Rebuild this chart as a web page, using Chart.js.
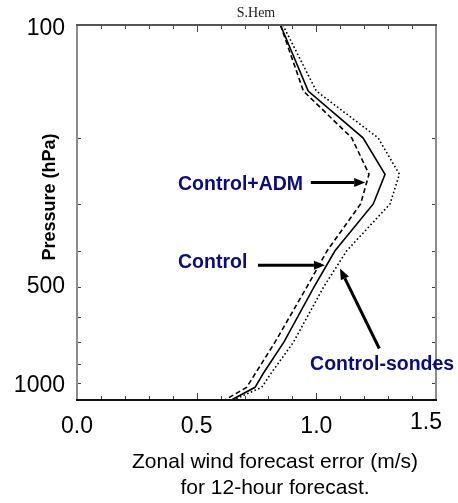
<!DOCTYPE html>
<html>
<head>
<meta charset="utf-8">
<script src="https://cdn.jsdelivr.net/npm/chart.js@4/dist/chart.umd.min.js"></script>
<style>
  html, body { margin: 0; padding: 0; background: #fff; }
  canvas { display: block; }
</style>
</head>
<body>
<canvas id="windChart" width="458" height="503"></canvas>
<script>
// pressure levels (hPa) and zonal wind forecast error (m/s)
var levels        = [100, 150, 200, 250, 300, 400, 500, 700, 850, 925, 1000];
var control       = [0.850, 0.966, 1.195, 1.287, 1.238, 1.078, 0.990, 0.865, 0.778, 0.744, 0.645];
var controlAdm    = [0.850, 0.946, 1.148, 1.220, 1.185, 1.045, 0.960, 0.828, 0.745, 0.709, 0.618];
var controlSondes = [0.860, 1.000, 1.258, 1.347, 1.308, 1.127, 1.030, 0.905, 0.810, 0.772, 0.652];

var xLabels = [0.0, 0.5, 1.0, 1.5];
var xMinor  = [0.1, 0.2, 0.3, 0.4, 0.6, 0.7, 0.8, 0.9, 1.1, 1.2, 1.3, 1.4];
var yLabels = [100, 500, 1000];
var yMinor  = [200, 300, 400, 600, 700, 800, 900];

// arrow annotations: [text, text x, text p, tail x, tail p, tip x, tip p]
var notes = [
  ['Control+ADM',    0.422, 267, 0.977, 263, 1.204, 263],
  ['Control',        0.422, 431, 0.756, 437, 1.036, 437],
  ['Control-sondes', 0.974, 807, 1.263, 729, 1.099, 446]
];

function pts(vals) {
  return vals.map(function (v, i) { return { x: v, y: levels[i] }; });
}

function arrow(ctx, x0, y0, x1, y1) {
  var a = Math.atan2(y1 - y0, x1 - x0), len = 11, w = 4.5;
  var bx = x1 - len * Math.cos(a), by = y1 - len * Math.sin(a);
  ctx.beginPath();
  ctx.moveTo(x0, y0);
  ctx.lineTo(bx, by);
  ctx.lineWidth = 3;
  ctx.stroke();
  ctx.beginPath();
  ctx.moveTo(x1, y1);
  ctx.lineTo(bx - w * Math.sin(a), by + w * Math.cos(a));
  ctx.lineTo(bx + w * Math.sin(a), by - w * Math.cos(a));
  ctx.closePath();
  ctx.fill();
}

// frame, inward ticks, labels, titles and arrows
var decor = {
  id: 'decor',
  afterDraw: function (chart) {
    var ctx = chart.ctx, a = chart.chartArea;
    var xs = chart.scales.x, ys = chart.scales.y;
    ctx.save();

    // ticks
    ctx.strokeStyle = '#444';
    ctx.lineWidth = 1;
    xMinor.concat(xLabels).forEach(function (v) {
      var px = Math.round(xs.getPixelForValue(v)) + 0.5;
      var len = xLabels.indexOf(v) >= 0 ? 7 : 4;
      ctx.beginPath();
      ctx.moveTo(px, a.top); ctx.lineTo(px, a.top + len);
      ctx.moveTo(px, a.bottom); ctx.lineTo(px, a.bottom - len);
      ctx.stroke();
    });
    yMinor.concat(yLabels).forEach(function (v) {
      var py = Math.round(ys.getPixelForValue(v)) + 0.5;
      ctx.beginPath();
      ctx.moveTo(a.left, py); ctx.lineTo(a.left + 4, py);
      ctx.moveTo(a.right, py); ctx.lineTo(a.right - 4, py);
      ctx.stroke();
    });

    // frame
    ctx.lineWidth = 2;
    ctx.strokeStyle = '#8c8c8c';
    ctx.beginPath();
    ctx.moveTo(a.left, a.top); ctx.lineTo(a.left, a.bottom);
    ctx.moveTo(a.right, a.top); ctx.lineTo(a.right, a.bottom);
    ctx.stroke();
    ctx.strokeStyle = '#555';
    ctx.beginPath();
    ctx.moveTo(a.left - 1, a.top); ctx.lineTo(a.right + 1, a.top);
    ctx.stroke();
    ctx.strokeStyle = '#111';
    ctx.beginPath();
    ctx.moveTo(a.left - 1, a.bottom); ctx.lineTo(a.right + 1, a.bottom);
    ctx.stroke();

    // tick labels
    ctx.fillStyle = '#000';
    ctx.font = '23px "Liberation Sans", Arial, sans-serif';
    ctx.textAlign = 'center';
    ctx.textBaseline = 'middle';
    xLabels.forEach(function (v, i) {
      var px = xs.getPixelForValue(v);
      var last = i === xLabels.length - 1;
      ctx.fillText(v.toFixed(1), px - (last ? 10 : 0), a.bottom + (last ? 23 : 27));
    });
    ctx.textAlign = 'right';
    var yShift = [4, 0, -14];
    yLabels.forEach(function (v, i) {
      var py = ys.getPixelForValue(v);
      ctx.fillText(String(v), a.left - 12, py + yShift[i]);
    });

    // titles
    ctx.textAlign = 'center';
    ctx.font = '14px "Liberation Serif", "Times New Roman", serif';
    ctx.fillStyle = '#222';
    ctx.fillText('S.Hem', 256, 13);
    ctx.fillStyle = '#000';
    ctx.font = '21px "Liberation Sans", Arial, sans-serif';
    ctx.fillText('Zonal wind forecast error (m/s)', 275, 462);
    ctx.fillText('for 12-hour forecast.', 275, 488);
    ctx.save();
    ctx.translate(50, 197);
    ctx.rotate(-Math.PI / 2);
    ctx.font = 'bold 18px "Liberation Sans", Arial, sans-serif';
    ctx.fillText('Pressure (hPa)', 0, 0);
    ctx.restore();

    // annotations
    ctx.textAlign = 'left';
    ctx.font = 'bold 19.5px "Liberation Sans", Arial, sans-serif';
    notes.forEach(function (n) {
      ctx.fillStyle = '#0b0b82';
      ctx.fillText(n[0], xs.getPixelForValue(n[1]), ys.getPixelForValue(n[2]));
      ctx.fillStyle = '#000';
      ctx.strokeStyle = '#000';
      arrow(ctx, xs.getPixelForValue(n[3]), ys.getPixelForValue(n[4]),
                 xs.getPixelForValue(n[5]), ys.getPixelForValue(n[6]));
    });

    ctx.restore();
  }
};

function series(label, vals, dash) {
  return {
    label: label,
    data: pts(vals),
    showLine: true,
    borderColor: '#000',
    borderWidth: 1.6,
    borderDash: dash,
    pointRadius: 0,
    fill: false,
    tension: 0
  };
}

new Chart(document.getElementById('windChart').getContext('2d'), {
  type: 'scatter',
  data: {
    datasets: [
      series('Control', control, []),
      series('Control+ADM', controlAdm, [5, 3]),
      series('Control-sondes', controlSondes, [1.6, 2.4])
    ]
  },
  options: {
    responsive: false,
    animation: false,
    layout: { padding: { left: 77, right: 22, top: 25, bottom: 103 } },
    plugins: { legend: { display: false }, tooltip: { enabled: false } },
    scales: {
      x: { type: 'linear', min: 0, max: 1.5, display: false },
      y: { type: 'logarithmic', min: 100, max: 1000, reverse: true, display: false }
    }
  },
  plugins: [decor]
});
</script>
</body>
</html>
